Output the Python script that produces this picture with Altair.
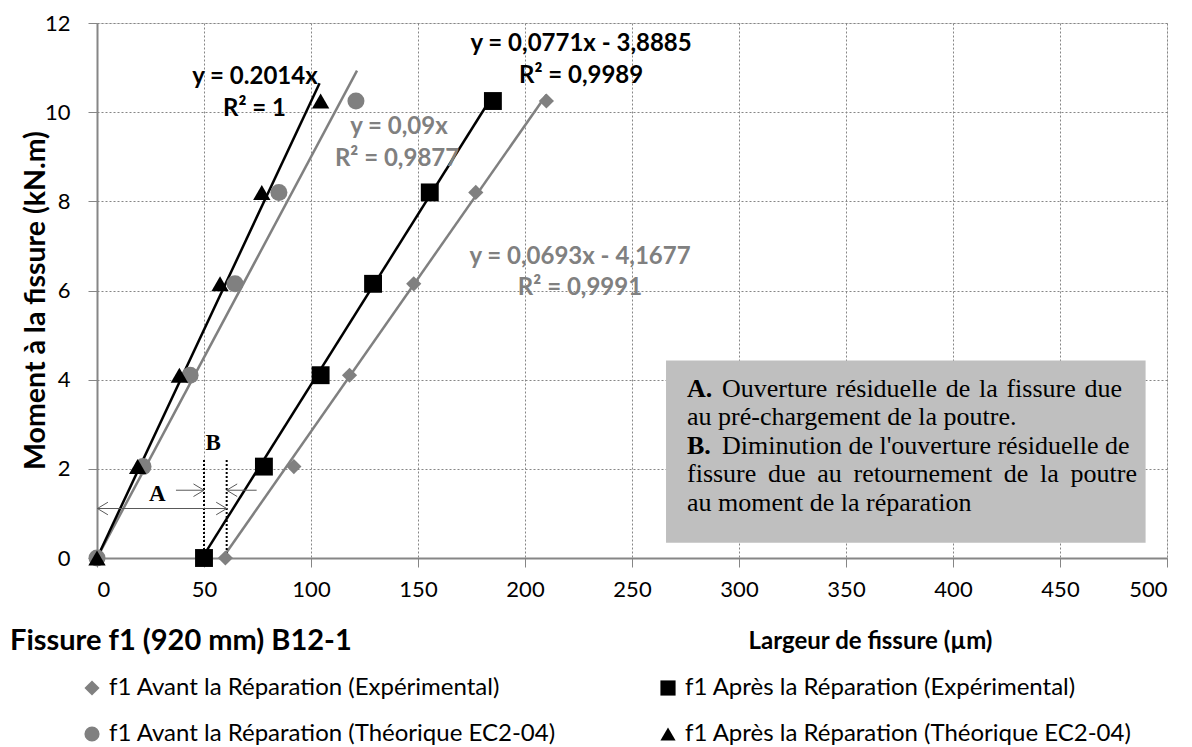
import altair as alt
import pandas as pd

# ---------------- data ----------------
# legend is filled column by column: Avant (Exp), Avant (Théo) | Après (Exp), Après (Théo)
series_names = [
    "f1 Avant la Réparation (Expérimental)",
    "f1 Avant la Réparation (Théorique EC2-04)",
    "f1 Après la Réparation (Expérimental)",
    "f1 Après la Réparation (Théorique EC2-04)",
]
series_shapes = ["diamond", "circle", "square", "triangle-up"]
series_colors = ["#808080", "#808080", "#000000", "#000000"]
series_sizes = [230, 290, 320, 300]

y_levels = [0, 2.05, 4.1, 6.15, 8.2, 10.25]
x_avant_exp = [60, 92, 118, 148, 177, 210]
x_avant_theo = [0, 21.5, 43.5, 64.5, 85, 121]
x_apres_exp = [50, 78, 104.5, 129, 155.5, 185]
x_apres_theo = [0, 19, 38.5, 57.5, 77, 104.5]

# trendline end points (series order as above)
trend_x0 = [60, 0, 50, 0]
trend_y0 = [0.09, 0, 0.07, 0]
trend_x1 = [210, 121.5, 185, 104]
trend_y1 = [10.39, 10.93, 10.38, 10.65]

# trendline equation labels
eq_text = ["y = 0.2014x", "R² = 1", "y = 0,09x", "R² = 0,9877",
           "y = 0,0771x - 3,8885", "R² = 0,9989",
           "y = 0,0693x - 4,1677", "R² = 0,9991"]
eq_x = [73.8, 73.6, 141.1, 140.2, 226.2, 226.2, 225.7, 225.7]
eq_y = [10.78, 10.08, 9.66, 8.96, 11.54, 10.82, 6.75, 6.05]
eq_color = ["#000000", "#000000", "#808080", "#808080",
            "#000000", "#000000", "#808080", "#808080"]

# annotation A / B
arrow_seg_id = ["A", "A", "B1", "B1", "B2", "B2"]
arrow_seg_x = [0.2, 60.6, 36.9, 50.0, 74.6, 60.6]
arrow_seg_y = [1.11, 1.11, 1.52, 1.52, 1.52, 1.52]
head_x = [0.2, 60.6, 50.0, 60.6]
head_y = [1.11, 1.11, 1.52, 1.52]
head_dir = ["left", "right", "right", "left"]
vline_x = [50.0, 60.6]
vline_y0 = [0, 0]
vline_y1 = [2.2, 2.2]
letter_text = ["A", "B"]
letter_x = [28.2, 54.3]
letter_y = [1.44, 2.57]

# explanation box
box_x0, box_x1 = [265.9], [490.0]
box_y0, box_y1 = [0.34], [4.43]
box_bold = ["A.", "", "B.", "", ""]
box_rest = [
    "Ouverture \u200arésiduelle \u200ade \u200ala \u200afissure \u200adue",
    "au pré-chargement de la poutre.",
    "Diminution de l'ouverture résiduelle de",
    "fissure \u2009due \u2009au \u2009retournement \u2009de \u2009la \u2009poutre",
    "au moment de la réparation",
]
box_indent = [1, 0, 1, 0, 0]
box_line_x = [275.7] * 5
box_line_y = [3.80, 3.16, 2.52, 1.88, 1.24]

chart_title = "Fissure f1 (920 mm) B12-1"
x_title = "Largeur de fissure (µm)"
y_title = "Moment à la fissure (kN.m)"
x_ticks = list(range(0, 501, 50))
y_ticks = list(range(0, 13, 2))

# ---------------- tables ----------------
xs_all = [x_avant_exp, x_avant_theo, x_apres_exp, x_apres_theo]
rows = []
for name, xs, sz in zip(series_names, xs_all, series_sizes):
    for xv, yv in zip(xs, y_levels):
        rows.append({"series": name, "x": xv, "y": yv, "size": sz})
pts = pd.DataFrame(rows)

trend_rows = []
for name, c, a0, b0, a1, b1 in zip(series_names, series_colors, trend_x0, trend_y0, trend_x1, trend_y1):
    trend_rows.append({"series": name, "color": c, "x": a0, "y": b0, "o": 0})
    trend_rows.append({"series": name, "color": c, "x": a1, "y": b1, "o": 1})
trend = pd.DataFrame(trend_rows)

eq = pd.DataFrame({"t": eq_text, "x": eq_x, "y": eq_y, "c": eq_color})
seg = pd.DataFrame({"id": arrow_seg_id, "x": arrow_seg_x, "y": arrow_seg_y,
                    "o": list(range(len(arrow_seg_x)))})
heads = pd.DataFrame({"x": head_x, "y": head_y, "d": head_dir})
vl = pd.DataFrame({"x": vline_x, "y0": vline_y0, "y1": vline_y1})
letters = pd.DataFrame({"t": letter_text, "x": letter_x, "y": letter_y})
box = pd.DataFrame({"x0": box_x0, "x1": box_x1, "y0": box_y0, "y1": box_y1})
boxtxt = pd.DataFrame({"b": box_bold, "r": box_rest, "ind": box_indent,
                       "x": box_line_x, "y": box_line_y})

GRID = "#868686"
FONT = "Lato"
SERIF = "Liberation Serif"

xscale = alt.Scale(domain=[0, 500], nice=False, zero=False)
yscale = alt.Scale(domain=[0, 12], nice=False)

x_axis = alt.Axis(values=x_ticks, grid=True, gridDash=[2, 2], gridColor=GRID, gridWidth=1,
                  domainColor=GRID, domainWidth=2, tickColor=GRID, tickSize=9, tickWidth=1,
                  labelFont=FONT, labelFontSize=22, labelColor="#000000", labelPadding=12,
                  title=x_title, titleFont=FONT, titleFontSize=24,
                  titleFontWeight="bold", titleColor="#000000", titleX=773, titleY=83,
                  titleBaseline="middle", titleAnchor="middle")
y_axis = alt.Axis(values=y_ticks, grid=True, gridDash=[2, 2], gridColor=GRID, gridWidth=1,
                  domainColor=GRID, domainWidth=2, tickColor=GRID, tickSize=9, tickWidth=1,
                  labelFont=FONT, labelFontSize=22, labelColor="#000000", labelPadding=18,
                  title=y_title, titleFont=FONT, titleFontSize=28.5,
                  titleFontWeight="bold", titleColor="#000000", titleX=-62, titleY=277,
                  titleAngle=270, titleBaseline="middle", titleAnchor="middle")

base_rect = alt.Chart(box).mark_rect(color="#bfbfbf").encode(
    x=alt.X("x0:Q", scale=xscale, axis=x_axis),
    x2="x1:Q",
    y=alt.Y("y0:Q", scale=yscale, axis=y_axis),
    y2="y1:Q",
)

box_bold_txt = alt.Chart(boxtxt).mark_text(
    font=SERIF, fontSize=26, fontWeight="bold", align="left", baseline="middle",
    color="#000000").encode(x="x:Q", y="y:Q", text="b:N")
box_rest_ind = alt.Chart(boxtxt).transform_filter("datum.ind == 1").mark_text(
    font=SERIF, fontSize=26, align="left", baseline="middle", dx=35,
    color="#000000").encode(x="x:Q", y="y:Q", text="r:N")
box_rest_plain = alt.Chart(boxtxt).transform_filter("datum.ind == 0").mark_text(
    font=SERIF, fontSize=26, align="left", baseline="middle",
    color="#000000").encode(x="x:Q", y="y:Q", text="r:N")

trend_lines = alt.Chart(trend).mark_line(strokeWidth=2.5).encode(
    x="x:Q", y="y:Q", detail="series:N", order="o:Q",
    color=alt.Color("color:N", scale=None))

legend = alt.Legend(title=None, orient="none", legendX=-17, legendY=653, columns=2,
                    columnPadding=100, rowPadding=22, padding=0, labelFont=FONT,
                    labelFontSize=24, labelColor="#000000", symbolSize=230,
                    symbolStrokeWidth=0, labelOffset=5, labelLimit=700)

points = alt.Chart(pts).mark_point(filled=True, opacity=1, strokeWidth=0).encode(
    x="x:Q", y="y:Q",
    shape=alt.Shape("series:N", scale=alt.Scale(domain=series_names, range=series_shapes),
                    legend=legend),
    color=alt.Color("series:N", scale=alt.Scale(domain=series_names, range=series_colors),
                    legend=legend),
    size=alt.Size("size:Q", scale=None),
)

eq_txt = alt.Chart(eq).mark_text(font=FONT, fontSize=24, fontWeight="bold",
                                 align="center", baseline="middle").encode(
    x="x:Q", y="y:Q", text="t:N", color=alt.Color("c:N", scale=None))

segs = alt.Chart(seg).mark_line(strokeWidth=1, color="#595959").encode(
    x="x:Q", y="y:Q", detail="id:N", order="o:Q")

heads_chart = alt.Chart(heads).mark_point(filled=False, strokeWidth=1, color="#595959",
                                          size=440, opacity=1).encode(
    x="x:Q", y="y:Q",
    shape=alt.Shape("d:N", scale=alt.Scale(
        domain=["left", "right"],
        range=["M 1 -0.6 L 0 0 L 1 0.6", "M -1 -0.6 L 0 0 L -1 0.6"]), legend=None))

vlines = alt.Chart(vl).mark_rule(strokeWidth=2, strokeDash=[2, 2], color="#000000").encode(
    x="x:Q", y="y0:Q", y2="y1:Q")

letters_txt = alt.Chart(letters).mark_text(font=SERIF, fontSize=23,
                                           fontWeight="bold", color="#000000",
                                           baseline="middle", align="center").encode(
    x="x:Q", y="y:Q", text="t:N")

title_txt = alt.Chart(pd.DataFrame({"t": [chart_title]})).mark_text(
    font=FONT, fontSize=29, fontWeight="bold", color="#000000", align="left",
    baseline="middle").encode(x=alt.value(-87), y=alt.value(618), text="t:N")

chart = alt.layer(
    base_rect, box_bold_txt, box_rest_ind, box_rest_plain, trend_lines, vlines, segs,
    heads_chart, letters_txt, points, eq_txt, title_txt
).resolve_scale(color="independent", shape="independent").properties(
    width=1070, height=535,
    autosize=alt.AutoSizeParams(type="none"),
    padding={"left": 89, "top": 15, "right": 17, "bottom": 192},
).configure_view(strokeWidth=0).configure(background="white")

chart.save("out.html", embed_options={"renderer": "svg", "actions": False})
